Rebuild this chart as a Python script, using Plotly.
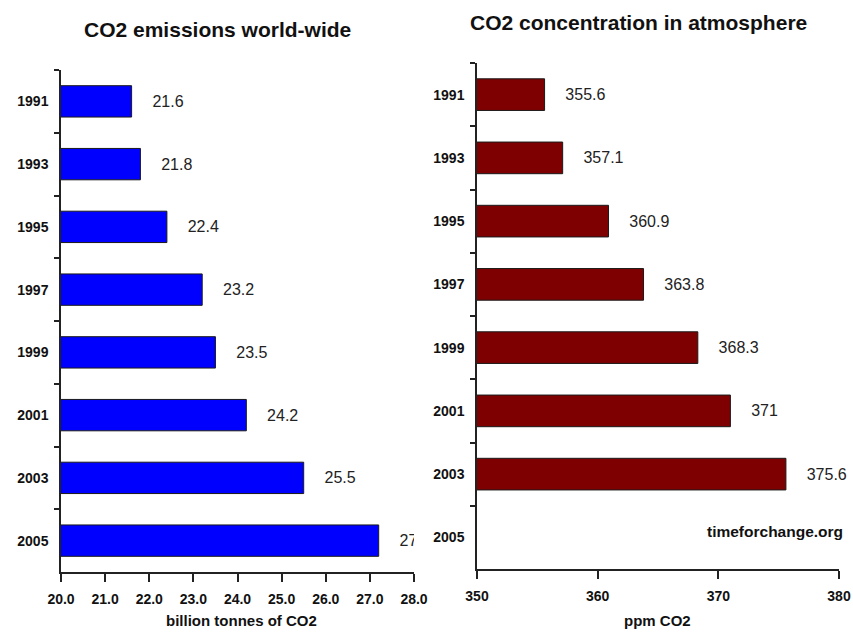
import plotly.graph_objects as go
from plotly.subplots import make_subplots

# Data
years = ["1991", "1993", "1995", "1997", "1999", "2001", "2003", "2005"]
emissions = [21.6, 21.8, 22.4, 23.2, 23.5, 24.2, 25.5, 27.2]          # billion tonnes of CO2
concentration = [355.6, 357.1, 360.9, 363.8, 368.3, 371.0, 375.6, None]  # ppm CO2
emission_labels = ["21.6", "21.8", "22.4", "23.2", "23.5", "24.2", "25.5", "27.2"]
concentration_labels = ["355.6", "357.1", "360.9", "363.8", "368.3", "371", "375.6", ""]

W, H = 853, 632
FONT = "Liberation Sans, Arial, sans-serif"
GAP = "\u00a0" * 4

fig = make_subplots(rows=1, cols=2)

# Emissions: value labels are clipped to the plot area
fig.add_trace(go.Bar(
    y=years, x=emissions, orientation="h",
    marker=dict(color="#0000FF", line=dict(color="#1a1a1a", width=1)),
    width=0.5,
    text=[GAP + t for t in emission_labels], textposition="outside",
    textfont=dict(family=FONT, size=16, color="#222"),
    constraintext="none", cliponaxis=True, hoverinfo="skip",
), row=1, col=1)

# Concentration: labels may run to the page edge
fig.add_trace(go.Bar(
    y=years, x=concentration, orientation="h",
    marker=dict(color="#7F0000", line=dict(color="#1a1a1a", width=1)),
    width=0.5,
    text=[GAP + t if t else "" for t in concentration_labels], textposition="outside",
    textfont=dict(family=FONT, size=16, color="#222"),
    constraintext="none", cliponaxis=False, hoverinfo="skip",
), row=1, col=2)

x_font = dict(family=FONT, size=14, color="#111", weight="bold")
y_font = dict(family=FONT, size=14, color="#111", weight="bold")
common_x = dict(showline=True, linecolor="#222", linewidth=1.5, ticks="outside",
                ticklen=8, tickcolor="#222", tickwidth=1.5, showgrid=False,
                zeroline=False, tickfont=x_font, ticklabelstandoff=5, automargin=False)
common_y = dict(showline=True, linecolor="#222", linewidth=1.5, ticks="outside",
                ticklen=5, tickcolor="#222", tickwidth=1.5, tickson="boundaries",
                showgrid=False, autorange="reversed", tickfont=y_font,
                ticklabelstandoff=8, type="category", automargin=False)

fig.update_xaxes(range=[20, 28], dtick=1, tickformat=".1f",
                 domain=[61 / W, 414 / W], **common_x, row=1, col=1)
fig.update_xaxes(range=[350, 380], dtick=10,
                 domain=[477 / W, 839 / W], **common_x, row=1, col=2)
fig.update_yaxes(domain=[(H - 572) / H, (H - 70) / H], **common_y, row=1, col=1)
fig.update_yaxes(domain=[(H - 569) / H, (H - 63) / H], **common_y, row=1, col=2)

title_font = dict(family=FONT, size=21, color="#111")
label_font = dict(family=FONT, size=15, color="#111")
annotations = [
    dict(text="<b>CO2 emissions world-wide</b>", x=217 / W, y=1 - 29 / H, font=title_font),
    dict(text="<b>CO2 concentration in atmosphere</b>", x=638 / W, y=1 - 23 / H, font=title_font),
    dict(text="<b>billion tonnes of CO2</b>", x=241 / W, y=1 - 620 / H, font=label_font),
    dict(text="<b>ppm CO2</b>", x=657 / W, y=1 - 620 / H, font=label_font),
    dict(text="<b>timeforchange.org</b>", x=845 / W, y=1 - 531 / H, xanchor="right",
         font=dict(family=FONT, size=15.5, color="#111")),
]
for a in annotations:
    a.setdefault("xanchor", "center")
    a.update(xref="paper", yref="paper", yanchor="middle", showarrow=False)

fig.update_layout(
    width=W, height=H, margin=dict(l=0, r=0, t=0, b=0),
    paper_bgcolor="white", plot_bgcolor="white",
    showlegend=False, annotations=annotations,
)

fig.write_html("out.html")
